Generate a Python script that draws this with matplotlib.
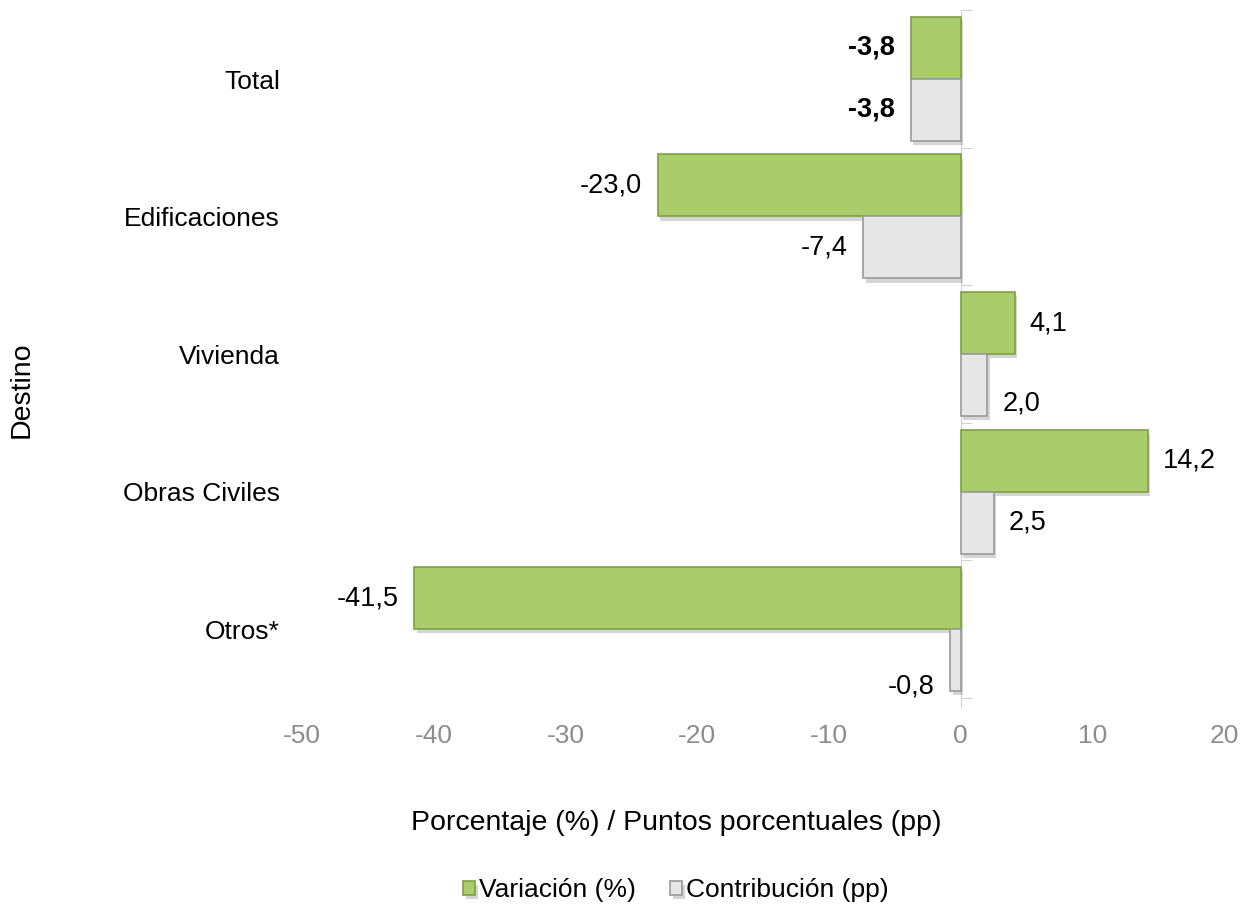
import matplotlib
matplotlib.use("Agg")
import matplotlib.pyplot as plt
import matplotlib.patheffects as pe
import matplotlib.transforms as mtransforms
import numpy as np

categories = ["Total", "Edificaciones", "Vivienda", "Obras Civiles", "Otros*"]
variacion = [-3.8, -23.0, 4.1, 14.2, -41.5]
contribucion = [-3.8, -7.4, 2.0, 2.5, -0.8]
xticks = [-50, -40, -30, -20, -10, 0, 10, 20]

plt.rcParams['font.family'] = ['Liberation Sans', 'DejaVu Sans']

fig = plt.figure(figsize=(12.47, 9.09), dpi=100)
ax = fig.add_axes([302/1247, 1-707/909, (1224-302)/1247, (707-10)/909])

pos = np.arange(len(categories))
h = 0.45
green, green_edge = "#A9CD6A", "#7E9F45"
grey, grey_edge = "#E6E6E6", "#9A9A9A"
shadow = [pe.SimplePatchShadow(offset=(2, -3), shadow_rgbFace="#888888", alpha=0.35), pe.Normal()]

b1 = ax.barh(pos - h/2, variacion, height=h, color=green, edgecolor=green_edge, linewidth=1.2,
             label="Variación (%)", zorder=3)
b2 = ax.barh(pos + h/2, contribucion, height=h, color=grey, edgecolor=grey_edge, linewidth=1.2,
             label="Contribución (pp)", zorder=3)
for b in list(b1) + list(b2):
    b.set_path_effects(shadow)

def fmt(v):
    return f"{v:.1f}".replace(".", ",")

# vertical nudges (points) for a few labels, as placed in the original
nudge = {(1, 2): -13, (1, 4): -19}

for i, (bars, vals) in enumerate([(b1, variacion), (b2, contribucion)]):
    for j, (bar, v) in enumerate(zip(bars, vals)):
        y = bar.get_y() + bar.get_height()/2
        weight = "bold" if j == 0 else "normal"
        off = 11 if v >= 0 else -11
        ha = "left" if v >= 0 else "right"
        ax.annotate(fmt(v), (v, y), xytext=(off, nudge.get((i, j), 0)), textcoords="offset points",
                    ha=ha, va="center", fontsize=19.5, fontweight=weight, color="#000000")

ax.set_xlim(-50, 20)
ax.set_ylim(4.565, -0.485)
ax.set_xticks(xticks)
ax.set_xticklabels([str(t) for t in xticks], color="#8C8C8C", fontsize=19)
ax.tick_params(axis='x', length=0, pad=12)

for s in ["top", "right", "bottom"]:
    ax.spines[s].set_visible(False)
ax.spines['left'].set_position(('data', 0))
ax.spines['left'].set_color("#D0D0D0")
ax.set_yticks(np.arange(-0.5, 5.0, 1.0))
ax.set_yticklabels([])
ax.tick_params(axis='y', direction='in', length=8, color="#D0D0D0")

trans = mtransforms.blended_transform_factory(ax.transAxes, ax.transData)
for p, c in zip(pos, categories):
    ax.text(-0.024, p + 0.02, c, transform=trans, ha="right", va="center", fontsize=19)

fig.text(22/1247, 1-390/909, "Destino", rotation=90, ha="center", va="center", fontsize=20.5)
fig.text(676/1247, 1-823/909, "Porcentaje (%) / Puntos porcentuales (pp)", ha="center", va="center", fontsize=20.5)

leg = fig.legend(handles=[b1, b2], loc="center", bbox_to_anchor=(676/1247, 1-890/909), ncol=2,
                 frameon=False, fontsize=19, handlelength=0.45, handleheight=0.45, handletextpad=0.15,
                 columnspacing=1.3)

fig.savefig("out.png", dpi=100)
